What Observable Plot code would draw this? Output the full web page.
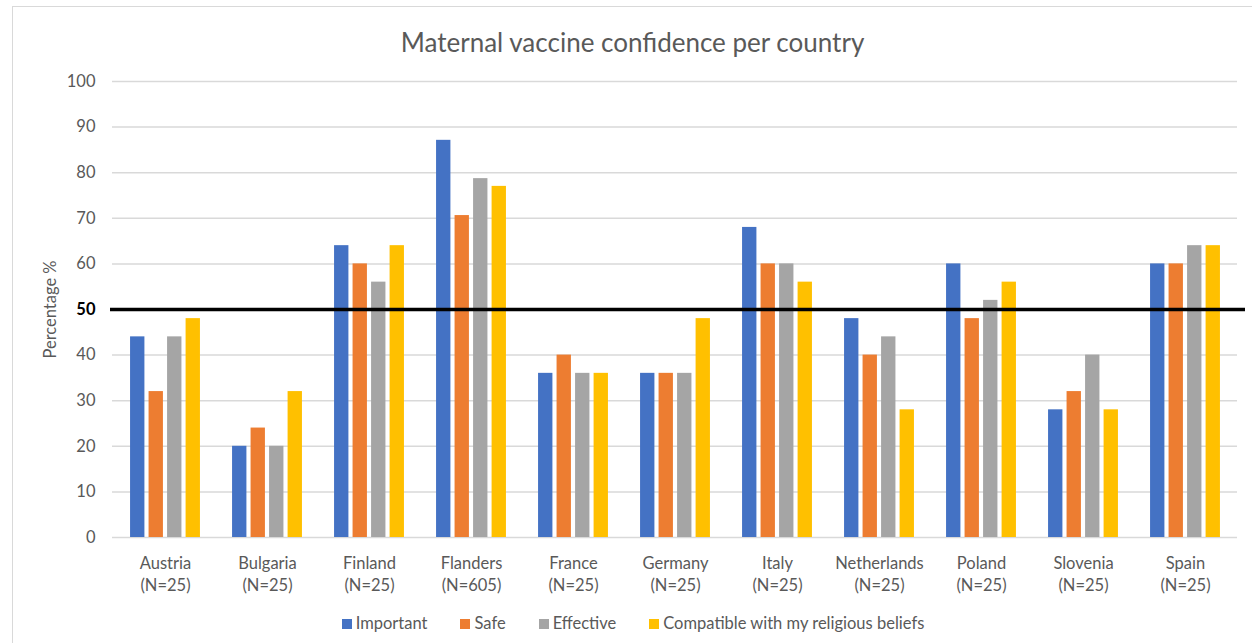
<!DOCTYPE html>
<html>
<head>
<meta charset="utf-8">
<script src="https://cdn.jsdelivr.net/npm/d3@7"></script>
<script src="https://cdn.jsdelivr.net/npm/@observablehq/plot@0.6"></script>
<style>
  html, body { margin: 0; padding: 0; background: #fff; overflow: hidden; }
  body { width: 1252px; height: 643px; position: relative; font-family: Lato, "Open Sans", sans-serif; }
  #frame { position: absolute; left: 12px; top: 6px; width: 1260px; height: 660px; border: 1px solid #d9d9d9; box-sizing: border-box; }
  #title { padding-top: 20px; height: 30px; line-height: 30px; font-size: 26px; color: #595959; text-align: center; width: 1239px; }
  #legend { margin-top: 10px; height: 20px; line-height: 20px; display: flex; justify-content: center; gap: 33px; font-size: 16.5px; color: #595959; width: 1264px; margin-left: -12px; }
  #legend span.sw { display: inline-block; width: 10px; height: 10px; margin-right: 4px; vertical-align: 0px; }
  svg { display: block; }
</style>
</head>
<body>
<div id="frame">
  <div id="title">Maternal vaccine confidence per country</div>
  <div id="chart"></div>
  <div id="legend"></div>
</div>
<script>
const countries = ["Austria", "Bulgaria", "Finland", "Flanders", "France", "Germany", "Italy", "Netherlands", "Poland", "Slovenia", "Spain"];
const sampleSizes = ["(N=25)", "(N=25)", "(N=25)", "(N=605)", "(N=25)", "(N=25)", "(N=25)", "(N=25)", "(N=25)", "(N=25)", "(N=25)"];
const seriesNames = ["Important", "Safe", "Effective", "Compatible with my religious beliefs"];
const important  = [44, 20, 64, 87.1, 36, 36, 68, 48, 60, 28, 60];
const safe       = [32, 24, 60, 70.6, 40, 36, 60, 40, 48, 32, 60];
const effective  = [44, 20, 56, 78.7, 36, 36, 60, 44, 52, 40, 64];
const compatible = [48, 32, 64, 77.0, 36, 48, 56, 28, 56, 28, 64];
const seriesColors = ["#4472C4", "#ED7D31", "#A5A5A5", "#FFC000"];
const yTicks = [0, 10, 20, 30, 40, 60, 70, 80, 90, 100];
const thresholdTick = [50];

const seriesValues = [important, safe, effective, compatible];
const data = countries.flatMap((c, i) => seriesNames.map((s, j) => ({country: c, series: s, value: seriesValues[j][i]})));

const width = 1239, marginLeft = 99, marginRight = 15, marginTop = 24, marginBottom = 66, height = 546;
const bw = (width - marginLeft - marginRight) / countries.length;
const barW = 0.143 * bw, gap = 0.038 * bw;
const groupW = 4 * barW + 3 * gap;
const start0 = (bw - groupW) / 2;

const textColor = "#595959";
const fontFamily = "Lato, 'Open Sans', sans-serif";

const barMarks = seriesNames.map((s, j) => {
  const left = start0 + j * (barW + gap);
  return Plot.barY(data.filter(d => d.series === s), {
    x: "country", y: "value", fill: seriesColors[j],
    insetLeft: left, insetRight: bw - left - barW
  });
});

const plot = Plot.plot({
  width, height, marginLeft, marginRight, marginTop, marginBottom,
  style: {fontFamily, fontSize: "16.5px", color: textColor, background: "white"},
  x: {domain: countries, padding: 0, axis: null},
  y: {domain: [0, 100], axis: null},
  marks: [
    Plot.gridY(d3.range(0, 101, 10), {stroke: "#d9d9d9", strokeOpacity: 1, strokeWidth: 1.5}),
    ...barMarks,
    Plot.ruleY(thresholdTick, {stroke: "black", strokeWidth: 3.5, insetLeft: -2, insetRight: -8}),
    Plot.axisY(yTicks, {tickSize: 0, tickPadding: 17, fill: textColor, fontSize: 16.5, label: null}),
    Plot.axisY(thresholdTick, {tickSize: 0, tickPadding: 17, fill: "black", fontWeight: "bold", fontSize: 16.5, label: null}),
    Plot.axisX(countries, {
      tickSize: 0, tickPadding: 16, fill: textColor, fontSize: 16.5, lineHeight: 1.33, label: null,
      tickFormat: (c) => c + "\n" + sampleSizes[countries.indexOf(c)]
    }),
    Plot.text(["Percentage %"], {frameAnchor: "left", textAnchor: "middle", lineAnchor: "middle", rotate: -90, dx: -62, fill: textColor, fontSize: 16.5})
  ]
});
document.getElementById("chart").appendChild(plot);

const legend = document.getElementById("legend");
seriesNames.forEach((s, j) => {
  const item = document.createElement("div");
  const sw = document.createElement("span");
  sw.className = "sw";
  sw.style.background = seriesColors[j];
  item.appendChild(sw);
  item.appendChild(document.createTextNode(s));
  legend.appendChild(item);
});
</script>
</body>
</html>
